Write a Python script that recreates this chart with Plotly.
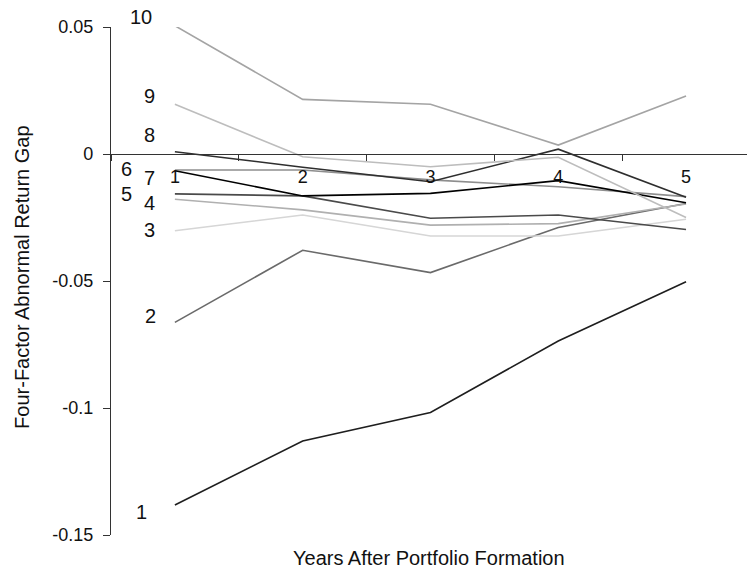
import plotly.graph_objects as go

years = ["1", "2", "3", "4", "5"]
tick_vals = [-0.15, -0.1, -0.05, 0, 0.05]
tick_text = ["-0.15", "-0.1", "-0.05", "0", "0.05"]

p1 = [-0.1382, -0.1130, -0.1018, -0.0736, -0.0503]
p2 = [-0.0663, -0.0379, -0.0467, -0.0289, -0.0195]
p3 = [-0.0302, -0.0240, -0.0323, -0.0323, -0.0257]
p4 = [-0.0178, -0.0220, -0.0280, -0.0274, -0.0197]
p5 = [-0.0157, -0.0165, -0.0253, -0.0240, -0.0297]
p6 = [-0.0063, -0.0063, -0.0102, -0.0129, -0.0168]
p7 = [-0.0066, -0.0165, -0.0155, -0.0105, -0.0192]
p8 = [0.0009, -0.0052, -0.0109, 0.0019, -0.0170]
p9 = [0.0196, -0.0011, -0.0050, -0.0013, -0.0250]
p10 = [0.0505, 0.0215, 0.0196, 0.0035, 0.0228]

series_names = ["1", "2", "3", "4", "5", "6", "7", "8", "9", "10"]
series_values = [p1, p2, p3, p4, p5, p6, p7, p8, p9, p10]

# styling (not data)
colors = ["#1e1e1e", "#6a6a6a", "#d6d6d6", "#b0b0b0", "#4a4a4a",
          "#8e8e8e", "#000000", "#2e2e2e", "#bdbdbd", "#a4a4a4"]
label_shift = {  # (xshift, yshift) in px for series-name labels
    "1": (-33, -7), "2": (-24, 6), "3": (-25, 1), "4": (-25, -4),
    "5": (-48, 0), "6": (-48, 1), "7": (-25, -7), "8": (-25, 17),
    "9": (-25, 8), "10": (-34, 9),
}

FONT = "Liberation Sans, Arial, Helvetica, sans-serif"
ymin, ymax = -0.15, 0.05
xmin, xmax = -0.5, 4.477

fig = go.Figure()
for name, vals, col in zip(series_names, series_values, colors):
    fig.add_trace(go.Scatter(x=years, y=vals, mode="lines", name=name,
                             line=dict(color=col, width=1.6),
                             showlegend=False, hoverinfo="skip"))

annotations = []
for name, vals in zip(series_names, series_values):
    xs, ys = label_shift[name]
    annotations.append(dict(x=(0 - xmin) / (xmax - xmin),
                            y=(vals[0] - ymin) / (ymax - ymin),
                            xref="paper", yref="paper",
                            text=name, showarrow=False, xshift=xs, yshift=ys,
                            xanchor="center", yanchor="middle",
                            font=dict(family=FONT, size=20, color="#111")))

annotations.append(dict(x=0.5, y=-0.045, xref="paper", yref="paper",
                        text="Years After Portfolio Formation", showarrow=False,
                        xanchor="center", yanchor="middle",
                        font=dict(family=FONT, size=20, color="#111")))
annotations.append(dict(x=-0.14, y=0.508, xref="paper", yref="paper",
                        text="Four-Factor Abnormal Return Gap", showarrow=False,
                        textangle=-90, xanchor="center", yanchor="middle",
                        font=dict(family=FONT, size=20, color="#111")))

fig.update_layout(
    width=747, height=572,
    margin=dict(l=111, r=0, t=27, b=37),
    paper_bgcolor="white", plot_bgcolor="white",
    font=dict(family=FONT, color="#111"),
    annotations=annotations,
    xaxis=dict(type="category", categoryorder="array", categoryarray=years,
               range=[xmin, xmax], anchor="free",
               position=(0 - ymin) / (ymax - ymin),
               showline=True, linecolor="#333", linewidth=1.4,
               ticks="outside", tickson="boundaries", ticklen=6,
               tickcolor="#333", tickwidth=1.2,
               tickfont=dict(family=FONT, size=18, color="#111"),
               ticklabelstandoff=6,
               showgrid=False, zeroline=False),
    yaxis=dict(range=[ymin, ymax], tickvals=tick_vals, ticktext=tick_text,
               showline=True, linecolor="#333", linewidth=1.4,
               ticks="outside", ticklen=7, tickcolor="#333", tickwidth=1.2,
               tickfont=dict(family=FONT, size=18, color="#111"),
               ticklabelstandoff=6,
               showgrid=False, zeroline=False),
)

fig.write_html("out.html",
               config={"displayModeBar": False},
               post_script="document.body.style.margin='0';"
                           "document.body.style.overflow='hidden';")
